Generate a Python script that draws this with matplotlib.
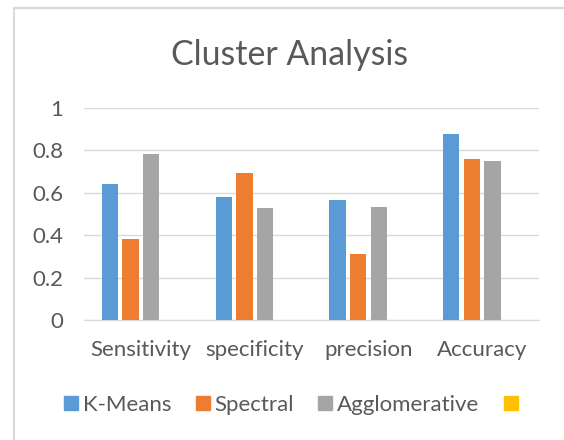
import numpy as np
import matplotlib.pyplot as plt
from matplotlib.patches import Patch
from matplotlib.lines import Line2D

kategorie = ['Sensitivity', 'specificity', 'precision', 'Accuracy']
kmeans = [0.641, 0.580, 0.564, 0.879]
spectral = [0.381, 0.691, 0.312, 0.757]
agglomerative = [0.781, 0.528, 0.533, 0.752]
serie = ['K-Means', 'Spectral', 'Agglomerative', '']  # czwarta seria jest pusta

kolory = ['#5B9BD5', '#ED7D31', '#A5A5A5', '#FFC000']
szary = '#595959'

plt.rcParams['font.family'] = ['Lato', 'DejaVu Sans']

fig = plt.figure(figsize=(5.64, 4.40), dpi=100)
ax = fig.add_axes([0.149, 0.272, 0.807, 0.483])

x = np.arange(len(kategorie))
w = 0.143
krok = 0.1817
for i, dane in enumerate([kmeans, spectral, agglomerative]):
    # 4 miejsca na kategorię, ostatnie (pusta seria) zostaje puste
    ax.bar(x + (i - 1.5) * krok, dane, width=w, color=kolory[i], zorder=3)

ax.set_xlim(-0.5, 3.5)
ax.set_ylim(0, 1)
ax.set_yticks([0, 0.2, 0.4, 0.6, 0.8, 1])
ax.set_yticklabels(['0', '0.2', '0.4', '0.6', '0.8', '1'])
ax.set_xticks(x)
ax.set_xticklabels(kategorie)
ax.tick_params(length=0, labelsize=16, colors=szary)
ax.tick_params(axis='y', pad=15)
ax.tick_params(axis='x', pad=14)
ax.grid(axis='y', color='#D9D9D9', linewidth=1, zorder=0)
for s in ['top', 'right', 'left']:
    ax.spines[s].set_visible(False)
ax.spines['bottom'].set_color('#D9D9D9')

fig.text(0.514, 0.852, 'Cluster Analysis', ha='center', va='baseline', fontsize=24.4, color=szary)

uchwyty = [Patch(color=k) for k in kolory]
fig.legend(uchwyty, serie, loc='center', bbox_to_anchor=(0.52, 0.08), ncol=4, frameon=False,
           fontsize=16, labelcolor=szary, handlelength=0.63, handleheight=0.63,
           handletextpad=0.23, columnspacing=1.08, borderpad=0)

# ramka wykresu (widoczna tylko z lewej i u góry)
fig.add_artist(Line2D([13.5 / 564, 13.5 / 564], [0, 1 - 8 / 440], transform=fig.transFigure,
                      color='#D9D9D9', linewidth=1.5))
fig.add_artist(Line2D([13.5 / 564, 1], [1 - 8 / 440, 1 - 8 / 440], transform=fig.transFigure,
                      color='#D9D9D9', linewidth=1.5))

fig.savefig('out.png', dpi=100)
